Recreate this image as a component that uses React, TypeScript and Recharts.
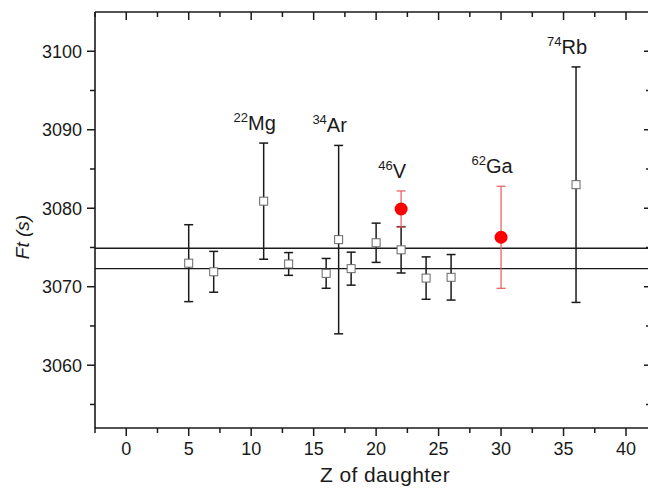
import React from "react";
import {
  ComposedChart,
  Scatter,
  ErrorBar,
  XAxis,
  YAxis,
  ReferenceLine,
} from "recharts";

// Ft values of the superallowed transitions (open squares)
const Z_SQ = [5, 7, 11, 13, 16, 17, 18, 20, 22, 24, 26, 36];
const FT_SQ = [3073.0, 3071.9, 3080.9, 3072.9, 3071.7, 3076.0, 3072.3, 3075.6, 3074.7, 3071.1, 3071.2, 3083.0];
const ERR_SQ = [4.9, 2.6, 7.4, 1.45, 1.9, 12.0, 2.1, 2.5, 2.95, 2.7, 2.9, 15.0];

// new measurements (red dots)
const Z_RED = [22, 30];
const FT_RED = [3079.9, 3076.3];
const ERR_RED = [2.3, 6.5];

// average band
const BAND = [3074.9, 3072.3];

// labelled nuclides
const LABEL_Z = [11, 17, 22, 30, 36];
const LABEL_MASS = ["22", "34", "46", "62", "74"];
const LABEL_SYM = ["Mg", "Ar", "V", "Ga", "Rb"];
const LABEL_RED = [false, false, true, true, false];

const X_MAJOR = [0, 5, 10, 15, 20, 25, 30, 35, 40];
const X_MINOR = [-2.5, 2.5, 7.5, 12.5, 17.5, 22.5, 27.5, 32.5, 37.5];
const Y_MAJOR = [3060, 3070, 3080, 3090, 3100];
const Y_MINOR = [3055, 3065, 3075, 3085, 3095];

const INK = "#1a1a1a";
const FONT = "'Liberation Sans', Arial, sans-serif";

const squares = Z_SQ.map((z, i) => ({ z, ft: FT_SQ[i], err: ERR_SQ[i] }));
const reds = Z_RED.map((z, i) => ({ z, ft: FT_RED[i], err: ERR_RED[i] }));
const labels = LABEL_Z.map((z, i) => {
  const src = LABEL_RED[i] ? reds : squares;
  const p = src.find((d) => d.z === z)!;
  return { z, ft: p.ft + p.err, mass: LABEL_MASS[i], sym: LABEL_SYM[i] };
});

const xTicks = [...X_MINOR, ...X_MAJOR].sort((a, b) => a - b);
const yTicks = [...Y_MINOR, ...Y_MAJOR].sort((a, b) => a - b);

const BottomTick = (p: any) => {
  const major = X_MAJOR.includes(p.payload.value);
  return (
    <g>
      <line x1={p.x} y1={p.y} x2={p.x} y2={p.y + (major ? 8 : 5)} stroke={INK} strokeWidth={1.5} />
      {major && (
        <text x={p.x} y={p.y + 27} textAnchor="middle" fontSize={18} fill={INK} fontFamily={FONT}>
          {p.payload.value}
        </text>
      )}
    </g>
  );
};

const TopTick = (p: any) => {
  const major = X_MAJOR.includes(p.payload.value);
  return <line x1={p.x} y1={p.y} x2={p.x} y2={p.y + (major ? 8 : 5)} stroke={INK} strokeWidth={1.5} />;
};

const LeftTick = (p: any) => {
  const major = Y_MAJOR.includes(p.payload.value);
  return (
    <g>
      <line x1={p.x - (major ? 8 : 5)} y1={p.y} x2={p.x} y2={p.y} stroke={INK} strokeWidth={1.5} />
      {major && (
        <text x={p.x - 13} y={p.y + 6.5} textAnchor="end" fontSize={18} fill={INK} fontFamily={FONT}>
          {p.payload.value}
        </text>
      )}
    </g>
  );
};

const RightTick = (p: any) => {
  const major = Y_MAJOR.includes(p.payload.value);
  return <line x1={p.x - (major ? 7 : 5)} y1={p.y} x2={p.x} y2={p.y} stroke={INK} strokeWidth={1.5} />;
};

const Square = (p: any) => (
  <rect x={p.cx - 4} y={p.cy - 4} width={8} height={8} fill="#fff" stroke="#666" strokeWidth={1} />
);

const Dot = (p: any) => <circle cx={p.cx} cy={p.cy} r={6.5} fill="#ff0000" />;

const NuclideLabel = (p: any) => (
  <text x={p.cx - 9} y={p.cy - 13} textAnchor="middle" fontSize={20} fill={INK} fontFamily={FONT}>
    <tspan fontSize={13} dy={-8}>{p.payload.mass}</tspan>
    <tspan dy={8}>{p.payload.sym}</tspan>
  </text>
);

export default function App() {
  return (
    <div style={{ position: "absolute", left: 0, top: 0, width: 648, height: 488, overflow: "hidden", background: "#fff" }}>
      <ComposedChart width={660} height={488} margin={{ top: 11, right: 8, bottom: 0, left: 0 }}>
        <XAxis
          xAxisId={0}
          dataKey="z"
          type="number"
          domain={[-2.5, 42]}
          allowDataOverflow
          ticks={xTicks}
          interval={0}
          height={60}
          tickSize={0}
          tickMargin={0}
          tickLine={false}
          axisLine={{ stroke: INK, strokeWidth: 1.6 }}
          tick={<BottomTick />}
          label={{
            content: ({ viewBox }: any) => (
              <text
                x={viewBox.x + viewBox.width / 2 + 12}
                y={viewBox.y + 54}
                textAnchor="middle"
                fontSize={21}
                letterSpacing={0.4}
                fill={INK}
                fontFamily={FONT}
              >
                Z of daughter
              </text>
            ),
          }}
        />
        <XAxis
          xAxisId="top"
          orientation="top"
          dataKey="z"
          type="number"
          domain={[-2.5, 42]}
          allowDataOverflow
          ticks={xTicks}
          interval={0}
          height={1}
          tickSize={0}
          tickMargin={0}
          tickLine={false}
          axisLine={{ stroke: INK, strokeWidth: 1.6 }}
          tick={<TopTick />}
        />
        <YAxis
          yAxisId={0}
          dataKey="ft"
          type="number"
          domain={[3052, 3105]}
          allowDataOverflow
          ticks={yTicks}
          interval={0}
          width={95}
          tickSize={0}
          tickMargin={0}
          tickLine={false}
          axisLine={{ stroke: INK, strokeWidth: 1.6 }}
          tick={<LeftTick />}
          label={{
            content: ({ viewBox }: any) => {
              const x = viewBox.x + 22;
              const y = viewBox.y + viewBox.height / 2 + 17;
              return (
                <text
                  x={x}
                  y={y}
                  transform={`rotate(-90 ${x} ${y})`}
                  textAnchor="middle"
                  dominantBaseline="central"
                  fontSize={19}
                  fontStyle="italic"
                  fill={INK}
                  fontFamily={FONT}
                >
                  Ft (s)
                </text>
              );
            },
          }}
        />
        <YAxis
          yAxisId="right"
          orientation="right"
          dataKey="ft"
          type="number"
          domain={[3052, 3105]}
          allowDataOverflow
          ticks={yTicks}
          interval={0}
          width={1}
          tickSize={0}
          tickMargin={0}
          tickLine={false}
          axisLine={{ stroke: INK, strokeWidth: 1.6 }}
          tick={<RightTick />}
        />
        {BAND.map((v) => (
          <ReferenceLine key={v} y={v} stroke={INK} strokeWidth={1.3} />
        ))}
        <Scatter data={squares} dataKey="ft" shape={<Square />} isAnimationActive={false}>
          <ErrorBar dataKey="err" direction="y" width={4.5} stroke={INK} strokeWidth={1.5} isAnimationActive={false} />
        </Scatter>
        <Scatter data={reds} dataKey="ft" shape={<Dot />} isAnimationActive={false}>
          <ErrorBar dataKey="err" direction="y" width={4.5} stroke="#e8585a" strokeWidth={1.2} isAnimationActive={false} />
        </Scatter>
        <Scatter data={labels} dataKey="ft" shape={<NuclideLabel />} isAnimationActive={false} />
      </ComposedChart>
    </div>
  );
}
